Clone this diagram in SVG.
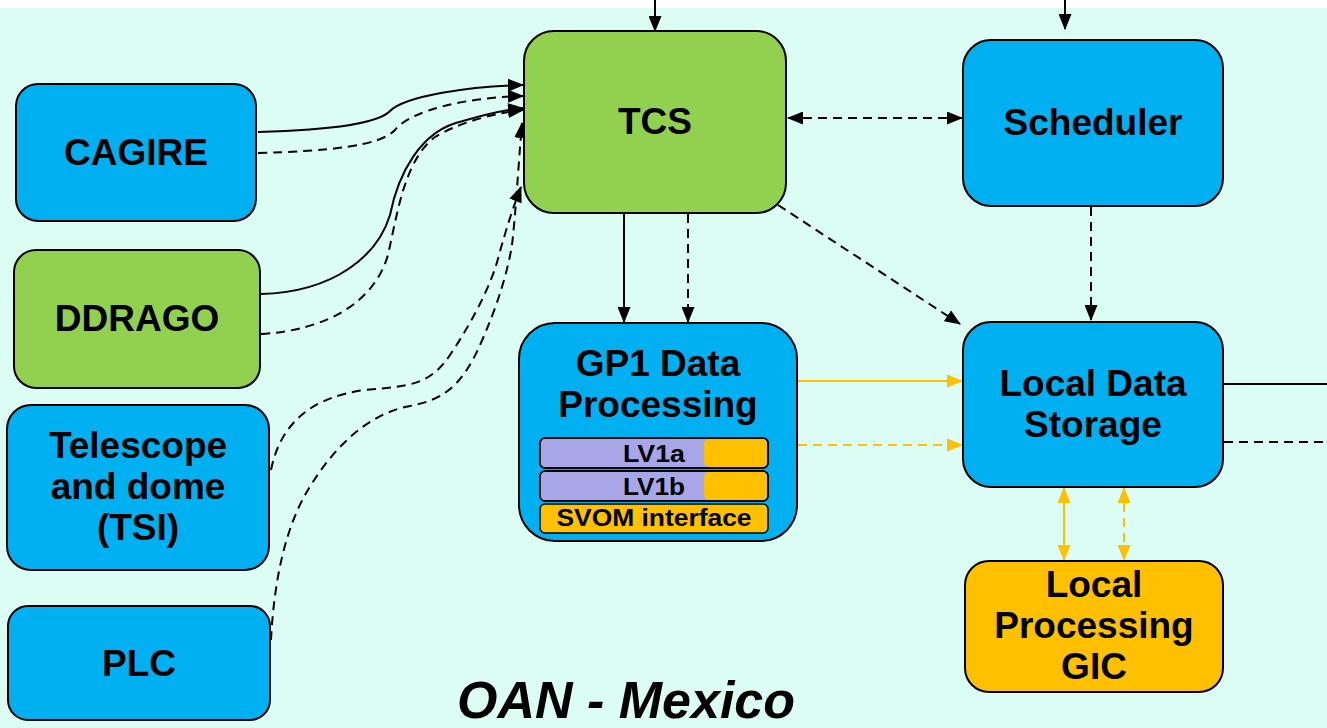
<svg xmlns="http://www.w3.org/2000/svg" width="1327" height="728" viewBox="0 0 1327 728">
<style>
.box{stroke:#000;stroke-width:2}
.blue{fill:#00B0F0}.green{fill:#92D050}.orange{fill:#FFC000}.lav{fill:#A9A6E8}
.t{font-family:"Liberation Sans",Arial,sans-serif;font-weight:bold;font-size:37px;fill:#000;text-anchor:middle}
.s{font-family:"Liberation Sans",Arial,sans-serif;font-weight:bold;font-size:24px;fill:#000;text-anchor:middle}
.c{fill:none;stroke:#000;stroke-width:2}
.d{stroke-dasharray:9 6}
.o{stroke:#FFC000}
</style>
<defs>
<marker id="ab" viewBox="0 0 16 13" refX="15" refY="6.5" markerWidth="16" markerHeight="13" markerUnits="userSpaceOnUse" orient="auto-start-reverse"><path d="M0,0 L16,6.5 L0,13 Z" fill="#000"/></marker>
<marker id="ao" viewBox="0 0 16 13" refX="15" refY="6.5" markerWidth="16" markerHeight="13" markerUnits="userSpaceOnUse" orient="auto-start-reverse"><path d="M0,0 L16,6.5 L0,13 Z" fill="#FFC000"/></marker>
</defs>
<rect x="0" y="0" width="1327" height="728" fill="#fff"/>
<rect x="0" y="8" width="1327" height="720" fill="#DCFDF4"/>

<g id="connectors">
<path class="c" d="M655,0 V31" marker-end="url(#ab)"/>
<path class="c" d="M1065,0 V29" marker-end="url(#ab)"/>
<path class="c d" d="M788,118 H962" marker-start="url(#ab)" marker-end="url(#ab)"/>
<path class="c" d="M624,214 V322" marker-end="url(#ab)"/>
<path class="c d" d="M688,214 V322" marker-end="url(#ab)"/>
<path class="c d" d="M778,205 L960,324" marker-end="url(#ab)"/>
<path class="c d" d="M1091,207 V320" marker-end="url(#ab)"/>
<path class="c o" d="M798,381 H962" marker-end="url(#ao)"/>
<path class="c o d" d="M798,445 H962" marker-end="url(#ao)"/>
<path class="c o" d="M1064,488 V560" marker-start="url(#ao)" marker-end="url(#ao)"/>
<path class="c o d" d="M1124,488 V560" marker-start="url(#ao)" marker-end="url(#ao)"/>
<path class="c" d="M1224,384 H1327"/>
<path class="c d" d="M1224,442 H1327"/>
<path class="c" d="M258,132 C330,130 378,124 390,111 C405,96 470,86 523,85" marker-end="url(#ab)"/>
<path class="c d" d="M258,153 C330,151 380,146 395,130 C410,110 470,97 523,96" marker-end="url(#ab)"/>
<path class="c" d="M261,294 C335,292 378,255 390,215 C398,175 420,130 463,121 C490,113 505,110 523,108" marker-end="url(#ab)"/>
<path class="c d" d="M261,334 C330,330 375,300 388,255 C398,210 405,160 435,137 C460,122 495,113 523,110" marker-end="url(#ab)"/>
<path class="c d" d="M271,470 C280,425 310,397 365,390 C410,386 430,385 450,355 C475,318 493,280 499,255 C506,230 512,210 521,187" marker-end="url(#ab)"/>
<path class="c d" d="M271,640 C273,600 280,540 305,495 C325,460 360,415 410,406 C440,400 460,390 480,345 C498,305 508,270 512,245 C516,210 518,170 522,123" marker-end="url(#ab)"/>
</g>

<g id="CAGIRE"><rect class="box blue" x="16" y="84" width="240" height="137" rx="22"/><text class="t" x="136" y="165">CAGIRE</text></g>
<g id="DDRAGO"><rect class="box green" x="14" y="250" width="246" height="138" rx="22"/><text class="t" x="137" y="331">DDRAGO</text></g>
<g id="TSI"><rect class="box blue" x="7" y="405" width="262" height="165" rx="24"/><text class="t" x="138" y="458">Telescope</text><text class="t" x="138" y="499">and dome</text><text class="t" x="138" y="540">(TSI)</text></g>
<g id="PLC"><rect class="box blue" x="8" y="606" width="262" height="114" rx="20"/><text class="t" x="139" y="676">PLC</text></g>
<g id="TCS"><rect class="box green" x="524" y="31" width="262" height="182" rx="30"/><text class="t" x="655" y="134">TCS</text></g>
<g id="Scheduler"><rect class="box blue" x="963" y="40" width="260" height="166" rx="28"/><text class="t" x="1093" y="135">Scheduler</text></g>
<g id="GP1"><rect class="box blue" x="519" y="323" width="278" height="218" rx="36"/><text class="t" x="658" y="376">GP1 Data</text><text class="t" x="658" y="417">Processing</text>
<rect class="lav" stroke="#000" stroke-width="1.5" x="540" y="438" width="228" height="30" rx="5"/><rect class="orange" x="704" y="439" width="63" height="28" rx="5"/><rect fill="none" stroke="#000" stroke-width="1.5" x="540" y="438" width="228" height="30" rx="5"/><text class="s" x="654" y="462" textLength="62" lengthAdjust="spacingAndGlyphs">LV1a</text>
<rect class="lav" stroke="#000" stroke-width="1.5" x="540" y="471" width="228" height="30" rx="5"/><rect class="orange" x="704" y="472" width="63" height="28" rx="5"/><rect fill="none" stroke="#000" stroke-width="1.5" x="540" y="471" width="228" height="30" rx="5"/><text class="s" x="654" y="495" textLength="62" lengthAdjust="spacingAndGlyphs">LV1b</text>
<rect class="orange" stroke="#000" stroke-width="1.5" x="540" y="504" width="228" height="29" rx="5"/><text class="s" x="654" y="526" textLength="195" lengthAdjust="spacingAndGlyphs">SVOM interface</text></g>
<g id="LDS"><rect class="box blue" x="963" y="322" width="260" height="165" rx="28"/><text class="t" x="1093" y="396">Local Data</text><text class="t" x="1093" y="437">Storage</text></g>
<g id="GIC"><rect class="box orange" x="965" y="561" width="258" height="131" rx="24"/><text class="t" x="1094" y="597">Local</text><text class="t" x="1094" y="638">Processing</text><text class="t" x="1094" y="679">GIC</text></g>
<g id="title"><text x="626" y="718" font-family="Liberation Sans, Arial, sans-serif" font-weight="bold" font-style="italic" font-size="52" text-anchor="middle">OAN - Mexico</text></g>
</svg>
